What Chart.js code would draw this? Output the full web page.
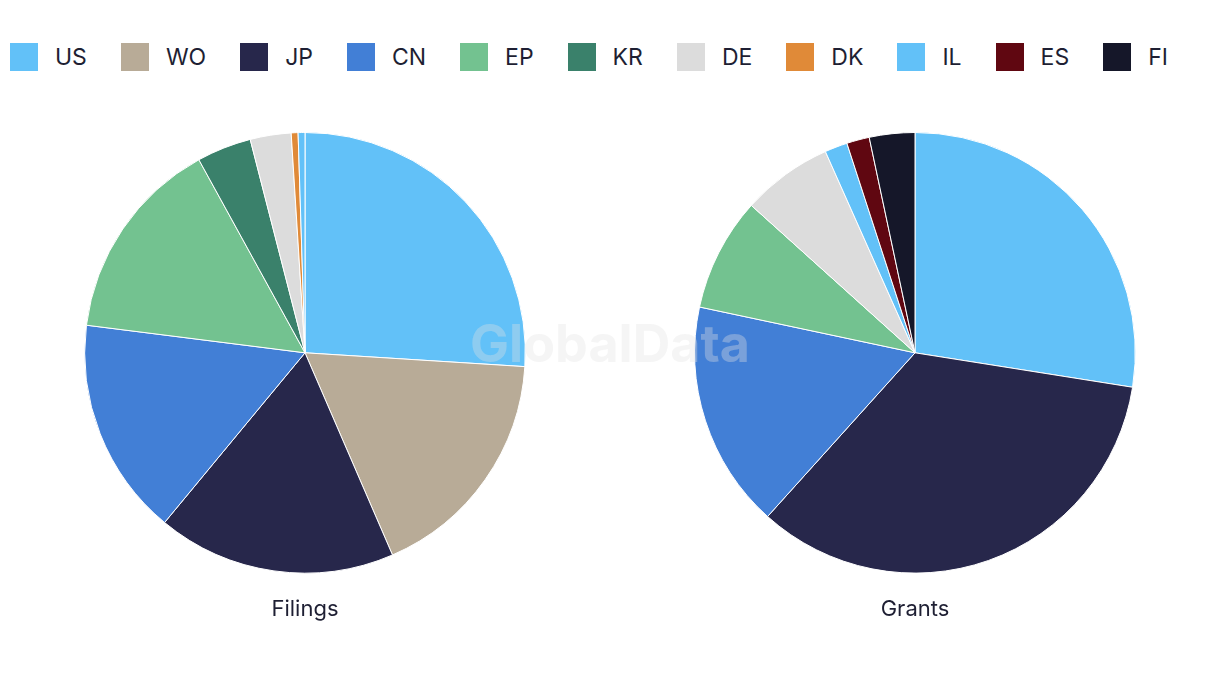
<!DOCTYPE html>
<html>
<head>
<meta charset="utf-8">
<script src="https://cdn.jsdelivr.net/npm/chart.js@4.4.1/dist/chart.umd.min.js"></script>
<style>
  body { margin: 0; background: #fff; font-family: Inter, "Noto Sans", sans-serif; }
  #page { position: relative; width: 1220px; height: 686px; overflow: hidden; }
  #legend { position: absolute; left: 10px; top: 43px; display: flex; align-items: center; }
  .item { display: flex; align-items: center; margin-right: 34px; }
  .box { width: 28px; height: 28px; margin-right: 17px; }
  .item span { font-size: 23px; color: #1e1f33; line-height: 28px; }
  .pie { position: absolute; top: 132px; width: 610px; height: 491px; }
  #mark { position: absolute; left: 0; width: 1220px; top: 312px; text-align: center;
          font-size: 52px; font-weight: 700; color: rgba(225,225,225,0.35); pointer-events: none; }
</style>
</head>
<body>
<div id="page">
  <div id="legend"></div>
  <div class="pie" style="left:0"><canvas id="filingsChart"></canvas></div>
  <div class="pie" style="left:610px"><canvas id="grantsChart"></canvas></div>
  <div id="mark">GlobalData</div>
</div>
<script>
// countries in legend order
const countries = ['US', 'WO', 'JP', 'CN', 'EP', 'KR', 'DE', 'DK', 'IL', 'ES', 'FI'];
// number of filings / grants per country
const filings = [52, 35, 35, 32, 30, 8, 6, 1, 1, 0, 0];
const grants = [33, 0, 41, 20, 10, 0, 8, 0, 2, 2, 4];
const colors = ['#62c1f8', '#b8ab97', '#27274b', '#427fd6', '#73c290', '#3a816b', '#dcdcdc', '#e08a38', '#62c1f8', '#600711', '#151729'];

// html legend on top, shared by both pies
let html = '';
countries.forEach((c, i) => {
    html += `<div class="item"><div class="box" style="background:${colors[i]}"></div><span>${c}</span></div>`;
});
document.getElementById('legend').innerHTML = html;

function makePie(id, values, title) {
    return new Chart(document.getElementById(id), {
        type: 'pie',
        data: {
            labels: countries,
            datasets: [{
                data: values,
                backgroundColor: colors,
                borderColor: '#ffffff',
                borderWidth: 1
            }]
        },
        options: {
            responsive: true,
            maintainAspectRatio: false,
            animation: false,
            layout: { padding: 0 },
            plugins: {
                legend: { display: false },
                tooltip: { enabled: false },
                title: {
                    display: true,
                    position: 'bottom',
                    text: title,
                    color: '#1e1f33',
                    font: { family: 'Inter', size: 22, weight: 'normal', lineHeight: 1.2 },
                    padding: { top: 23, bottom: 0 }
                }
            }
        }
    });
}

makePie('filingsChart', filings, 'Filings');
makePie('grantsChart', grants, 'Grants');
</script>
</body>
</html>
